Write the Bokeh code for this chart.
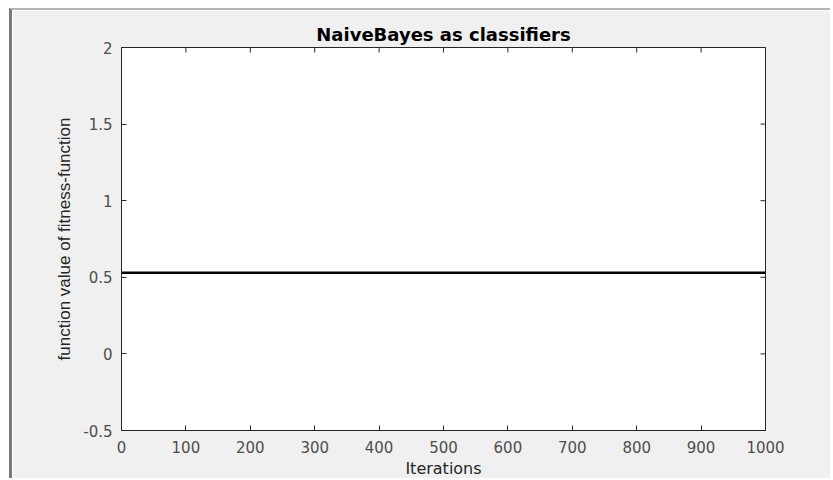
import math
from bokeh.plotting import figure
from bokeh.models import LinearAxis, FixedTicker, Range1d
from bokeh.embed import file_html
from bokeh.resources import INLINE

iterations = [0, 1000]
fitness = [0.53, 0.53]
x_ticks = [0, 100, 200, 300, 400, 500, 600, 700, 800, 900, 1000]
y_ticks = [-0.5, 0, 0.5, 1, 1.5, 2]
y_tick_labels = ["-0.5", "0", "0.5", "1", "1.5", "2"]
x_min, x_max = 0, 1000
y_min, y_max = -0.5, 2

FONT = "DejaVu Sans"
GRAY = "#4d4d4d"
DARK = "#262626"

p = figure(width=821, height=470, output_backend="svg", toolbar_location=None,
           x_range=Range1d(x_min, x_max), y_range=Range1d(y_min, y_max),
           min_border_left=109, min_border_right=68, min_border_top=37, min_border_bottom=49,
           background_fill_color="white", border_fill_color="#f0f0f0",
           title="NaiveBayes as classifiers", x_axis_location=None, y_axis_location=None)
p.styles = {"margin-left": "9px", "margin-top": "8px",
            "border-left": "3px solid #7a7a7a", "border-top": "2px solid #b4b4b4"}

p.xgrid.visible = False
p.ygrid.visible = False
p.outline_line_color = DARK
p.outline_line_width = 1

p.title.align = "center"
p.title.text_font = FONT
p.title.text_font_size = "18px"
p.title.text_font_style = "bold"
p.title.text_color = "black"
p.title.offset = 0
p.title.standoff = 5

def make_axis(ticks, label):
    ax = LinearAxis(ticker=FixedTicker(ticks=ticks), axis_label=label)
    ax.major_tick_in = 5
    ax.major_tick_out = 0
    ax.minor_tick_in = 0
    ax.minor_tick_out = 0
    ax.axis_line_color = DARK
    ax.major_tick_line_color = DARK
    ax.major_label_text_font = FONT
    ax.major_label_text_font_size = "15px"
    ax.major_label_text_color = GRAY
    ax.axis_label_text_font = FONT
    ax.axis_label_text_font_size = "16px"
    ax.axis_label_text_font_style = "normal"
    ax.axis_label_text_color = DARK
    return ax

xb = make_axis(x_ticks, "Iterations")
xb.major_label_standoff = 10
xb.axis_label_standoff = 3
p.add_layout(xb, "below")

yl = make_axis(y_ticks, "function value of fitness-function")
yl.major_label_overrides = dict(zip(y_ticks, y_tick_labels))
yl.major_label_standoff = 9
yl.axis_label_standoff = 6
yl.axis_label_text_font = "Liberation Sans"
yl.axis_label_text_font_size = "17px"
p.add_layout(yl, "left")

# inward ticks on the top and right edges (box on)
p.ray(x=x_ticks, y=[y_max] * len(x_ticks), length=5, length_units="screen",
      angle=-math.pi / 2, line_color=DARK, line_width=1)
p.ray(x=[x_max] * len(y_ticks), y=y_ticks, length=5, length_units="screen",
      angle=math.pi, line_color=DARK, line_width=1)

p.line(iterations, fitness, line_color="black", line_width=2.5)

open("out.html", "w").write(file_html(p, INLINE))
